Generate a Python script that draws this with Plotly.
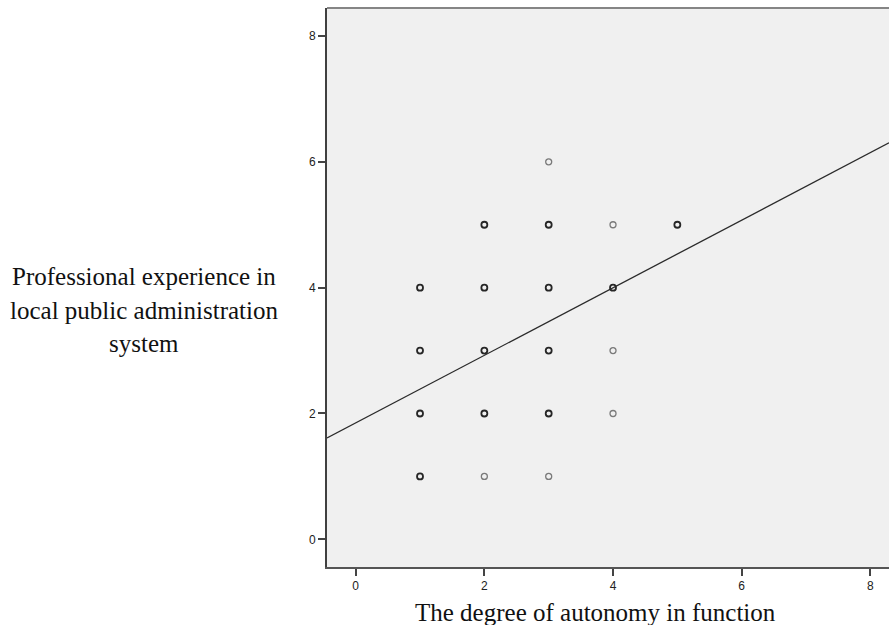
import plotly.graph_objects as go

# Observed (autonomy, experience) combinations; several respondents share
# each of the darker positions, the lighter ones are single cases.
autonomy_multi = [1, 1, 1, 1, 2, 2, 2, 2, 3, 3, 3, 3, 4, 5]
experience_multi = [1, 2, 3, 4, 2, 3, 4, 5, 2, 3, 4, 5, 4, 5]
autonomy_single = [2, 3, 3, 4, 4, 4]
experience_single = [1, 1, 6, 2, 3, 5]

# Linear fit line (experience = intercept + slope * autonomy)
fit_intercept = 1.85
fit_slope = 0.537

x_ticks = [0, 2, 4, 6, 8]
y_ticks = [0, 2, 4, 6, 8]
x_range = [-0.446, 8.29]
y_range = [-0.44, 8.445]

W, H = 889, 625
ML, MR, MT, MB = 327, 0, 8, 58
plot_w = W - ML - MR
plot_h = H - MT - MB


def px_to_paper(px, py):
    return (px - ML) / plot_w, (H - MB - py) / plot_h


fig = go.Figure()

fit_x = [x_range[0], x_range[1]]
fit_y = [fit_intercept + fit_slope * v for v in fit_x]
fig.add_trace(go.Scatter(
    x=fit_x, y=fit_y, mode="lines",
    line=dict(color="#2b2b2b", width=1.3),
    hoverinfo="skip", showlegend=False,
))

fig.add_trace(go.Scatter(
    x=autonomy_single, y=experience_single, mode="markers",
    marker=dict(symbol="circle-open", size=6, color="#7a7a7a",
                line=dict(width=1.3, color="#7a7a7a")),
    showlegend=False,
))
fig.add_trace(go.Scatter(
    x=autonomy_multi, y=experience_multi, mode="markers",
    marker=dict(symbol="circle-open", size=6, color="#262626",
                line=dict(width=1.8, color="#262626")),
    showlegend=False,
))

tick_font = dict(family="Liberation Sans, Arial, sans-serif", size=12, color="#222222")

fig.update_xaxes(
    range=x_range, tickvals=x_ticks, ticktext=[str(v) for v in x_ticks],
    showgrid=False, zeroline=False,
    showline=True, linecolor="#555555", linewidth=2,
    ticks="outside", ticklen=7, tickwidth=1.5, tickcolor="#444444",
    tickfont=tick_font,
)
fig.update_yaxes(
    range=y_range, tickvals=y_ticks, ticktext=[str(v) for v in y_ticks],
    showgrid=False, zeroline=False,
    showline=True, linecolor="#404040", linewidth=2,
    ticks="outside", ticklen=7, tickwidth=1.5, tickcolor="#444444",
    tickfont=tick_font,
)

# top frame edge
fig.add_shape(type="line", xref="paper", yref="paper", x0=0, x1=1, y0=1, y1=1,
              line=dict(color="#858585", width=2))

title_font = dict(family="Liberation Serif, Times New Roman, serif", size=25, color="#111111")

ax, ay = px_to_paper(595, 612)
fig.add_annotation(text="The degree of autonomy in function", xref="paper", yref="paper",
                   x=ax, y=ay, showarrow=False, xanchor="center", yanchor="middle",
                   font=title_font)

y_title_lines = ["Professional experience in", "local public administration", "system"]
y_title_rows = [276, 310, 343]
for line, row in zip(y_title_lines, y_title_rows):
    lx, ly = px_to_paper(144, row)
    fig.add_annotation(text=line, xref="paper", yref="paper", x=lx, y=ly,
                       showarrow=False, xanchor="center", yanchor="middle",
                       font=title_font)

fig.update_layout(
    width=W, height=H,
    margin=dict(l=ML, r=MR, t=MT, b=MB),
    paper_bgcolor="white", plot_bgcolor="#f0f0f0",
    showlegend=False,
)

fig.write_html("out.html")
